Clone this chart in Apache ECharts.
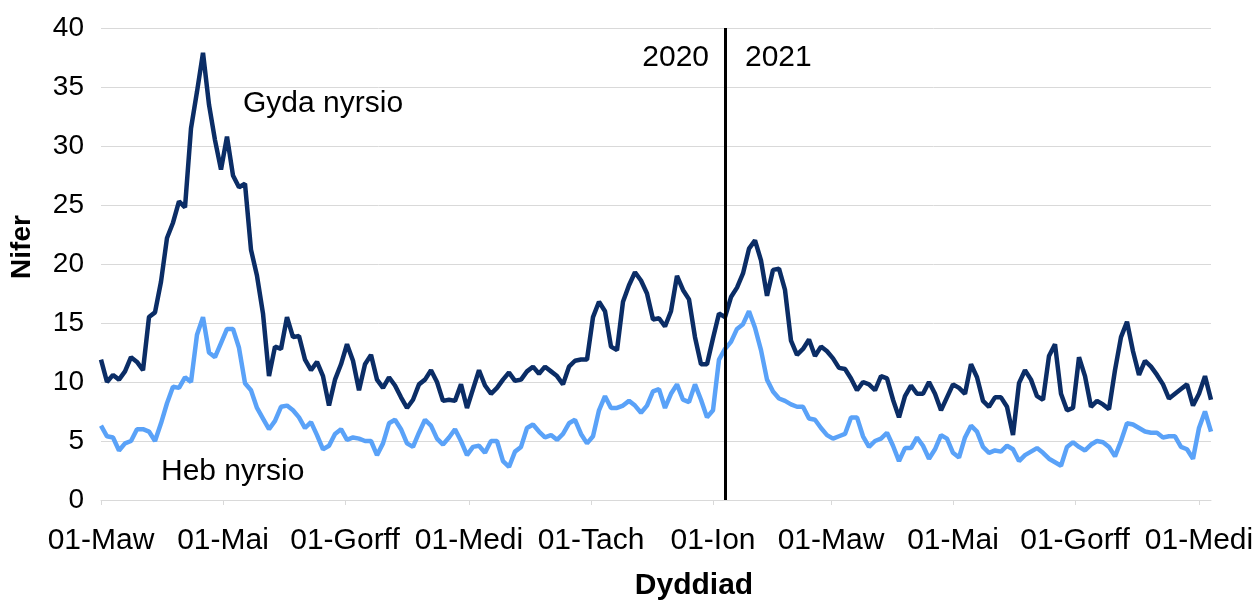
<!DOCTYPE html>
<html>
<head>
<meta charset="utf-8">
<script src="https://cdn.jsdelivr.net/npm/echarts@6/dist/echarts.min.js"></script>
<style>
html, body { margin: 0; padding: 0; background: #fff; }
#chart { width: 1258px; height: 600px; }
</style>
</head>
<body>
<div id="chart"></div>
<script>
// readings every 3 days from 01-Mar-2020
const startDate = '2020-03-01';
const stepDays = 3;

const withNursing = [
    11.9, 10.0, 10.6, 10.2, 10.9, 12.1, 11.7, 11.0, 15.5, 15.9, 18.5, 22.2, 23.5, 25.3, 24.8, 31.5,
    34.6, 37.9, 33.5, 30.5, 28.0, 30.8, 27.5, 26.5, 26.8, 21.2, 19.0, 15.8, 10.5, 13.0, 12.8,
    15.5, 13.8, 13.9, 11.9, 11.0, 11.7, 10.5, 8.0, 10.2, 11.5, 13.2, 11.8, 9.3, 11.5, 12.3, 10.2,
    9.5, 10.4, 9.7, 8.7, 7.8, 8.5, 9.8, 10.2, 11.0, 10.0, 8.4, 8.5, 8.4, 9.8, 7.8,
    9.4, 11.0, 9.7, 9.0, 9.5, 10.2, 10.8, 10.1, 10.2, 10.9, 11.3, 10.7, 11.3, 10.9, 10.5, 9.8,
    11.3, 11.8, 11.9, 11.9, 15.5, 16.8, 16.0, 13.0, 12.7, 16.8, 18.2, 19.3, 18.6, 17.5, 15.3,
    15.4, 14.7, 16.0, 19.0, 17.8, 17.0, 13.8, 11.5, 11.5, 13.7, 15.8, 15.5, 17.2, 18.0, 19.2, 21.3,
    22.0, 20.3, 17.3, 19.5, 19.6, 17.8, 13.5, 12.3, 12.8, 13.6, 12.2, 13.0, 12.6, 12.0, 11.2,
    11.1, 10.3, 9.3, 10.0, 9.8, 9.3, 10.5, 10.3, 8.5, 7.0, 8.8, 9.7, 9.0, 9.0, 10.0, 9.0,
    7.6, 8.7, 9.8, 9.5, 9.0, 11.5, 10.4, 8.4, 7.9, 8.7, 8.7, 7.9, 5.5, 9.9, 11.0,
    10.2, 8.8, 8.5, 12.2, 13.2, 9.0, 7.6, 7.8, 12.1, 10.5, 7.9, 8.4, 8.1, 7.7, 11.0, 13.8,
    15.1, 12.6, 10.6, 11.8, 11.3, 10.6, 9.8, 8.6, 9.0, 9.4, 9.8, 8.0, 9.0, 10.5, 8.5
];

const withoutNursing = [
    6.3, 5.4, 5.3, 4.2, 4.8, 5.0, 6.0, 6.0, 5.8, 5.0, 6.5, 8.2, 9.6, 9.5, 10.4, 10.0,
    14.0, 15.5, 12.5, 12.1, 13.3, 14.5, 14.5, 12.9, 9.9, 9.3, 7.8, 6.9, 6.0, 6.7, 7.9,
    8.0, 7.6, 7.0, 6.1, 6.6, 5.5, 4.3, 4.6, 5.6, 6.0, 5.1, 5.3, 5.2, 5.0, 5.0, 3.8,
    4.8, 6.5, 6.8, 6.0, 4.8, 4.5, 5.7, 6.8, 6.3, 5.2, 4.7, 5.3, 6.0, 5.0, 3.8,
    4.5, 4.6, 4.0, 5.0, 5.0, 3.3, 2.8, 4.1, 4.5, 6.1, 6.4, 5.8, 5.3, 5.5, 5.1, 5.6,
    6.5, 6.8, 5.6, 4.8, 5.4, 7.6, 8.8, 7.8, 7.8, 8.0, 8.4, 8.0, 7.4, 8.0, 9.2,
    9.4, 7.8, 9.0, 9.8, 8.5, 8.3, 9.8, 8.5, 7.0, 7.6, 11.9, 12.8, 13.4, 14.5, 14.9, 16.0,
    14.6, 12.7, 10.2, 9.2, 8.6, 8.4, 8.1, 7.9, 7.9, 6.9, 6.8, 6.1, 5.5, 5.2, 5.4,
    5.6, 7.0, 7.0, 5.4, 4.5, 5.0, 5.2, 5.7, 4.6, 3.3, 4.4, 4.4, 5.3, 4.6, 3.5, 4.3,
    5.5, 5.2, 4.0, 3.6, 5.3, 6.3, 5.8, 4.5, 4.0, 4.2, 4.1, 4.6, 4.3, 3.3, 3.8,
    4.1, 4.4, 4.0, 3.5, 3.2, 2.9, 4.5, 4.9, 4.5, 4.2, 4.7, 5.0, 4.9, 4.5, 3.7, 5.0,
    6.5, 6.4, 6.1, 5.8, 5.7, 5.7, 5.3, 5.4, 5.4, 4.5, 4.3, 3.5, 6.1, 7.5, 5.8
];

const tickDates = ['2020-03-01', '2020-05-01', '2020-07-01', '2020-09-01', '2020-11-01',
    '2021-01-01', '2021-03-01', '2021-05-01', '2021-07-01', '2021-09-01'];
const tickLabels = ['01-Maw', '01-Mai', '01-Gorff', '01-Medi', '01-Tach',
    '01-Ion', '01-Maw', '01-Mai', '01-Gorff', '01-Medi'];

const yearSplitDate = '2021-01-07';

const font = 'Liberation Sans, Arial, sans-serif';

function dayOffset(d) {
    return Math.round((Date.parse(d) - Date.parse(startDate)) / 86400000);
}

const tickDays = tickDates.map(dayOffset);
const splitDay = dayOffset(yearSplitDate);
const lastDay = (withNursing.length - 1) * stepDays;

function toPairs(values) {
    return values.map((v, i) => [i * stepDays, v]);
}

function textMark(coord, text, position) {
    return {
        coord: coord,
        symbol: 'circle',
        symbolSize: 0,
        label: {
            show: true,
            position: position,
            distance: 0,
            formatter: text,
            color: '#000',
            fontSize: 30,
            fontFamily: font
        }
    };
}

const myChart = echarts.init(document.getElementById('chart'));

const option = {
    animation: false,
    grid: { left: 101, right: 47, top: 28, bottom: 100, outerBoundsMode: 'none' },
    xAxis: {
        type: 'value',
        min: 0,
        max: lastDay,
        name: 'Dyddiad',
        nameLocation: 'middle',
        nameGap: 71,
        nameTextStyle: {
            fontSize: 30,
            fontWeight: 'bold',
            fontFamily: font,
            color: '#000',
            padding: [0, 0, 0, 76]
        },
        splitLine: { show: false },
        axisLine: { show: true, lineStyle: { color: '#d9d9d9', width: 1 } },
        axisTick: {
            show: true,
            customValues: tickDays,
            length: 5,
            lineStyle: { color: '#d9d9d9' }
        },
        axisLabel: {
            customValues: tickDays,
            formatter: function (v) {
                const i = tickDays.indexOf(Math.round(v));
                return i >= 0 ? tickLabels[i] : '';
            },
            margin: 26,
            fontSize: 30,
            fontFamily: font,
            color: '#000'
        }
    },
    yAxis: {
        type: 'value',
        min: 0,
        max: 40,
        interval: 5,
        name: 'Nifer',
        nameLocation: 'middle',
        nameGap: 65,
        nameTextStyle: {
            fontSize: 28,
            fontWeight: 'bold',
            fontFamily: font,
            color: '#000',
            padding: [0, 0, 0, 34]
        },
        axisLine: { show: false },
        axisTick: { show: false },
        splitLine: { lineStyle: { color: '#d9d9d9', width: 1 } },
        axisLabel: {
            margin: 17,
            fontSize: 28,
            fontFamily: font,
            color: '#000'
        }
    },
    series: [
        {
            name: 'Gyda nyrsio',
            type: 'line',
            data: toPairs(withNursing),
            showSymbol: false,
            lineStyle: { color: '#0b2d66', width: 4.5 },
            itemStyle: { color: '#0b2d66' },
            z: 3,
            markLine: {
                silent: true,
                symbol: 'none',
                label: { show: false },
                lineStyle: { color: '#000', width: 3, type: 'solid' },
                data: [{ xAxis: splitDay }]
            },
            markPoint: {
                silent: true,
                data: [
                    textMark([71, 33.6], 'Gyda nyrsio', 'right'),
                    textMark([splitDay - 8, 37.5], '2020', 'left'),
                    textMark([splitDay + 10, 37.5], '2021', 'right')
                ]
            }
        },
        {
            name: 'Heb nyrsio',
            type: 'line',
            data: toPairs(withoutNursing),
            showSymbol: false,
            lineStyle: { color: '#5aa2f8', width: 4.5 },
            itemStyle: { color: '#5aa2f8' },
            z: 2,
            markPoint: {
                silent: true,
                data: [
                    textMark([30, 2.4], 'Heb nyrsio', 'right')
                ]
            }
        }
    ]
};

myChart.setOption(option);
</script>
</body>
</html>
